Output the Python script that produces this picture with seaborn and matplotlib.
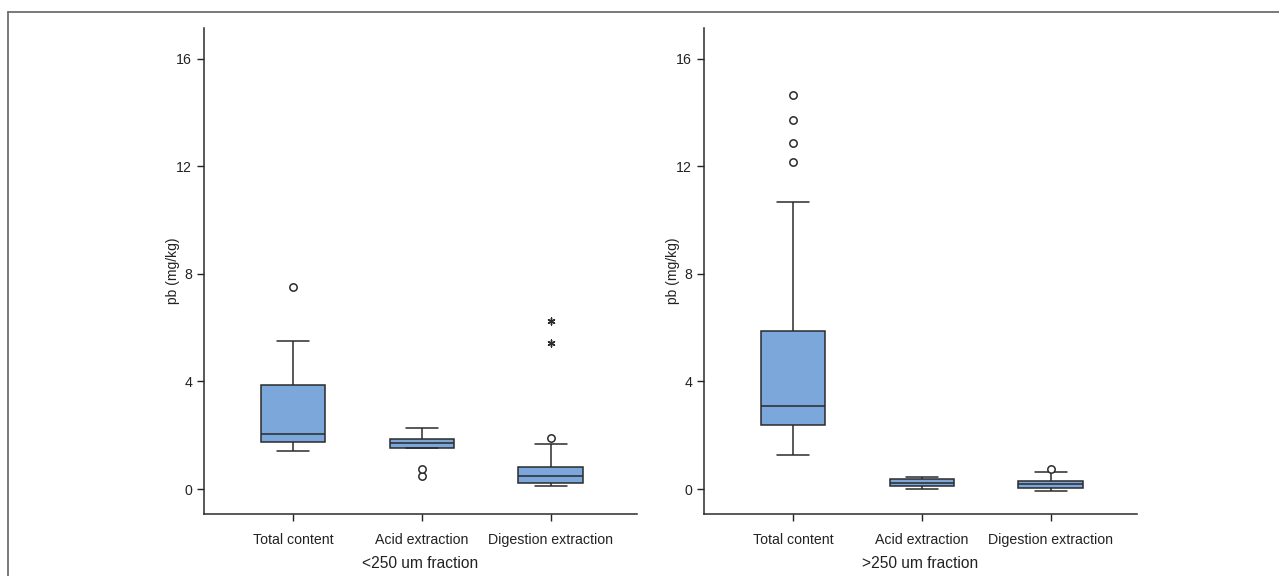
import matplotlib
matplotlib.use('Agg')
import matplotlib.pyplot as plt
import numpy as np
import pandas as pd
import seaborn as sns
from matplotlib.lines import Line2D

# Kategorier
methods = ['Total content', 'Acid extraction', 'Digestion extraction']
fractions = ['<250 um fraction', '>250 um fraction']

# pb (mg/kg) per prøve, lest av figuren (<250 um)
fine_total = [1.43, 1.58, 1.70, 1.75, 1.85, 1.95, 2.03, 2.60, 3.20, 3.87, 4.60, 5.52, 7.50]
fine_acid = [0.50, 0.75, 1.51, 1.51, 1.60, 1.66, 1.72, 1.78, 1.83, 1.87, 2.00, 2.10, 2.26]
fine_digest = [0.10, 0.13, 0.16, 0.19, 0.21, 0.28, 0.35, 0.43, 0.50, 0.58, 0.66, 0.74, 0.82,
               1.69, 1.91, 5.42, 6.25]

# pb (mg/kg) per prøve (>250 um)
coarse_total = [1.28, 1.60, 1.85, 2.05, 2.20, 2.37, 2.50, 2.65, 2.80, 2.95, 3.10, 3.50, 4.00,
                4.60, 5.20, 5.87, 10.68, 12.18, 12.89, 13.74, 14.67]
coarse_acid = [0.00, 0.05, 0.08, 0.11, 0.15, 0.20, 0.24, 0.28, 0.33, 0.37, 0.40, 0.43, 0.46]
coarse_digest = [-0.09, -0.02, 0.01, 0.04, 0.08, 0.12, 0.17, 0.21, 0.26, 0.30, 0.45, 0.63, 0.76]

yticks = [0, 4, 8, 12, 16]

BOX_COLOR = '#7ba7da'
LINE_COLOR = '#2b2b2b'


def make_frame(groups):
    rows = []
    for method, values in zip(methods, groups):
        for v in values:
            rows.append({'method': method, 'pb': v})
    df = pd.DataFrame(rows)
    # SPSS-stil: sirkel for 1.5-3 IQR, stjerne for > 3 IQR
    q = df.groupby('method')['pb'].quantile([0.25, 0.75]).unstack()
    q1 = df['method'].map(q[0.25])
    q3 = df['method'].map(q[0.75])
    iqr = q3 - q1
    dist = np.maximum(q1 - df['pb'], df['pb'] - q3) / iqr
    df['kind'] = np.where(dist > 3, 'extreme', np.where(dist > 1.5, 'mild', 'in'))
    return df


def draw_panel(ax, df, xlabel):
    sns.boxplot(data=df, x='method', y='pb', order=methods, ax=ax,
                color=BOX_COLOR, saturation=1, width=0.5,
                linecolor=LINE_COLOR, linewidth=1.1, showfliers=False)
    mild = df[df['kind'] == 'mild']
    if len(mild):
        sns.stripplot(data=mild, x='method', y='pb', order=methods, ax=ax,
                      jitter=False, marker='o', size=5.3, color='white',
                      edgecolor=LINE_COLOR, linewidth=1.1)
    extreme = df[df['kind'] == 'extreme']
    if len(extreme):
        sns.stripplot(data=extreme, x='method', y='pb', order=methods, ax=ax,
                      jitter=False, marker=(6, 2, 0), size=5, color=LINE_COLOR,
                      edgecolor=LINE_COLOR, linewidth=1.0)

    ax.set_xlim(-0.69, 2.67)
    ax.set_ylim(-0.93, 17.15)
    ax.set_yticks(yticks)
    ax.set_xlabel(xlabel, fontsize=11.2, color='#222222', labelpad=6)
    ax.set_ylabel('pb (mg/kg)', fontsize=10, color='#222222', labelpad=-3)
    ax.tick_params(axis='both', labelsize=10.2, colors='#222222', length=5, width=1)
    ax.tick_params(axis='x', pad=9)
    for side in ['left', 'bottom']:
        ax.spines[side].set_color(LINE_COLOR)
        ax.spines[side].set_linewidth(1.1)
    sns.despine(ax=ax)


sns.set_style('ticks')
plt.rcParams['font.family'] = ['Liberation Sans', 'DejaVu Sans']

fig = plt.figure(figsize=(12.79, 5.76), dpi=100)
ax1 = fig.add_axes([0.1595, 0.1076, 0.3386, 0.8438])
ax2 = fig.add_axes([0.5504, 0.1076, 0.3386, 0.8438])

draw_panel(ax1, make_frame([fine_total, fine_acid, fine_digest]), fractions[0])
draw_panel(ax2, make_frame([coarse_total, coarse_acid, coarse_digest]), fractions[1])

# Ramme øverst og til venstre
fig.add_artist(Line2D([8 / 1279, 8 / 1279], [0, 1 - 11.5 / 576],
                      transform=fig.transFigure, color='#6e6e6e', linewidth=1.3))
fig.add_artist(Line2D([8 / 1279, 1], [1 - 11.5 / 576, 1 - 11.5 / 576],
                      transform=fig.transFigure, color='#6e6e6e', linewidth=1.3))

fig.savefig('out.png', dpi=100)
plt.close(fig)
